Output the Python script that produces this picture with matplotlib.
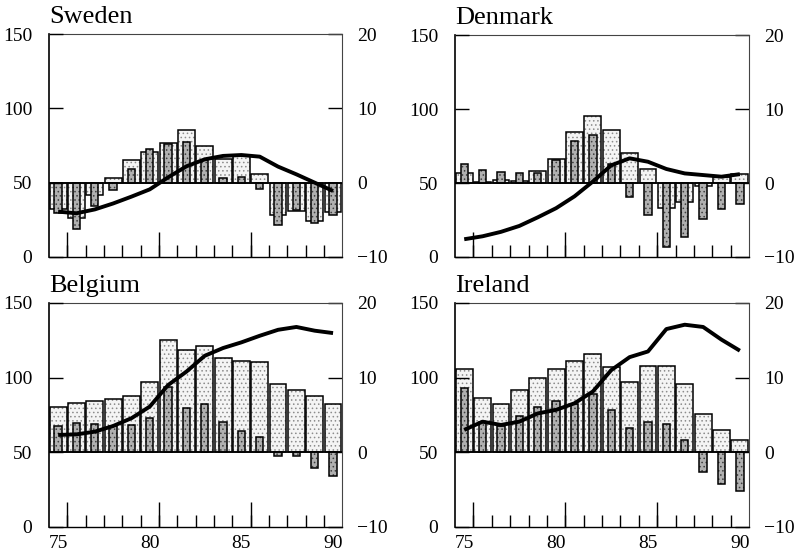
import numpy as np
import matplotlib
matplotlib.use("Agg")
import matplotlib.pyplot as plt

plt.rcParams['font.family'] = ['Liberation Serif', 'DejaVu Serif']
plt.rcParams['hatch.linewidth'] = 0.6

years = list(range(75, 91))

# wide bars (right axis), narrow bars (right axis), line (left axis)
sweden_wide = [-3.5, -4.8, -1.7, 0.6, 3.0, 4.1, 5.4, 7.1, 5.0, 3.2, 3.6, 1.2, -4.3, -3.8, -5.2, -4.0]
sweden_narrow = [-4.1, -6.2, -3.1, -1.0, 1.9, 4.5, 5.2, 5.5, 3.0, 0.6, 0.8, -0.9, -5.7, -3.7, -5.4, -4.3]
sweden_debt = [30.5, 29.4, 32, 36, 40.6, 45.5, 53.6, 61, 65.7, 68, 68.6, 67.5, 60.8, 55.6, 50, 44.4]

denmark_wide = [1.3, 0.2, 0.4, 0.3, 1.6, 3.3, 6.9, 9.1, 7.2, 4.0, 1.9, -3.4, -2.6, -0.4, 0.8, 1.2]
denmark_narrow = [2.6, 1.7, 1.5, 1.3, 1.3, 3.1, 5.7, 6.5, 2.6, -1.9, -4.3, -8.6, -7.3, -4.8, -3.5, -2.8]
denmark_debt = [12, 14, 17, 21, 26.8, 33, 41, 51, 62, 66.7, 64.4, 59.5, 56.5, 55.4, 54.3, 56]

belgium_wide = [6.0, 6.6, 6.8, 7.2, 7.5, 9.4, 15.0, 13.7, 14.2, 12.6, 12.2, 12.1, 9.1, 8.4, 7.5, 6.5]
belgium_narrow = [3.5, 3.9, 3.8, 3.5, 3.6, 4.6, 8.8, 5.9, 6.4, 4.0, 2.8, 2.1, -0.45, -0.5, -2.1, -3.2]
belgium_debt = [61.6, 62, 63.8, 67.6, 72.8, 80.6, 95, 104, 114.6, 119.8, 123.6, 128, 132, 133.9, 131.4, 129.8]

ireland_wide = [11.1, 7.3, 6.5, 8.3, 10.0, 11.1, 12.2, 13.1, 11.4, 9.4, 11.6, 11.5, 9.1, 5.1, 3.0, 1.7]
ireland_narrow = [8.6, 4.0, 3.5, 4.9, 6.1, 6.8, 6.5, 7.8, 5.7, 3.2, 4.1, 3.8, 1.6, -2.7, -4.3, -5.2]
ireland_debt = [65, 70.5, 68.3, 70.5, 76, 78.4, 82.8, 90.7, 105, 113.7, 117.5, 132.5, 135.4, 133.9, 125.4, 118]

panels = [
    ("Sweden", sweden_wide, sweden_narrow, sweden_debt, [0.0613, 0.5378, 0.367, 0.401], False),
    ("Denmark", denmark_wide, denmark_narrow, denmark_debt, [0.5695, 0.5378, 0.368, 0.399], False),
    ("Belgium", belgium_wide, belgium_narrow, belgium_debt, [0.0613, 0.0522, 0.367, 0.403], True),
    ("Ireland", ireland_wide, ireland_narrow, ireland_debt, [0.5695, 0.0522, 0.368, 0.403], True),
]

fig = plt.figure(figsize=(7.99, 5.56), dpi=100)

for name, wide, narrow, debt, rect, show_x in panels:
    ax = fig.add_axes(rect)
    # wide bars
    ax.bar(years, wide, width=0.92, color='#f4f4f4', edgecolor='#8c8c8c', hatch='....', lw=0, zorder=2)
    ax.bar(years, wide, width=0.92, fill=False, edgecolor='black', lw=1.1, zorder=3)
    # narrow bars
    ax.bar(years, narrow, width=0.4, color='#b0b0b0', edgecolor='#404040', hatch='....', lw=0, zorder=4)
    ax.bar(years, narrow, width=0.4, fill=False, edgecolor='black', lw=1.1, zorder=5)
    ax.axhline(0, color='black', lw=1.2, zorder=6)
    ax.set_ylim(-10, 20)
    ax.set_xlim(74.5, 90.5)

    ax2 = ax.twinx()
    ax2.plot(years, debt, color='black', lw=2.8, solid_capstyle='butt', zorder=10)
    ax2.set_ylim(0, 150)

    ax.yaxis.tick_right()
    ax2.yaxis.tick_left()
    ax.set_yticks([-10, 0, 10, 20])
    ax2.set_yticks([0, 50, 100, 150])
    ax.tick_params(axis='y', direction='in', length=10, pad=11, labelsize=14, width=1)
    ax2.tick_params(axis='y', direction='in', length=10, pad=12, labelsize=14, width=1)

    ax.set_xticks([75, 80, 85, 90])
    ax.set_xticks([y + 0.5 for y in years[:-1]], minor=True)
    ax.tick_params(axis='x', which='major', length=0, pad=6, labelsize=14, labelbottom=show_x)
    ax.tick_params(axis='x', which='minor', direction='in', length=9, width=1)
    sec = ax.secondary_xaxis('bottom')
    sec.set_xticks([75.5, 80.5, 85.5])
    sec.tick_params(direction='in', length=18, width=1, labelbottom=False)
    sec.spines['bottom'].set_visible(False)

    for s in ['top', 'right']:
        ax.spines[s].set_linewidth(0.8)
        ax.spines[s].set_color('#444444')
    ax.spines['left'].set_linewidth(1.2)
    ax.spines['bottom'].set_linewidth(1.0)
    for s in ax2.spines.values():
        s.set_visible(False)

    ax.set_title(name, loc='left', fontsize=19, pad=8)

fig.savefig("out.png", dpi=100)
